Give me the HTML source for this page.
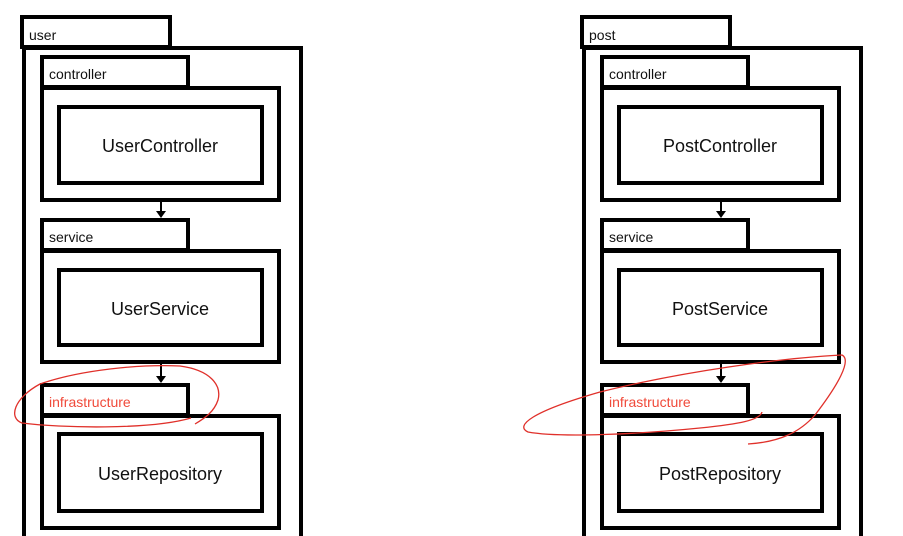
<!DOCTYPE html>
<html><head><meta charset="utf-8"><style>
html,body{margin:0;padding:0;background:#fff;width:903px;height:536px;overflow:hidden}
svg text{font-family:"Liberation Sans",sans-serif}
</style></head><body>
<svg width="903" height="536" viewBox="0 0 903 536" xmlns="http://www.w3.org/2000/svg">
<defs>
<g id="col" fill="#fff" stroke="#000" stroke-width="4">
<rect x="24" y="48" width="277" height="500"/>
<rect x="22" y="17" width="148" height="30"/>
<rect x="42" y="88" width="237" height="112"/>
<rect x="42" y="57" width="146" height="30"/>
<rect x="59" y="107" width="203" height="76"/>
<rect x="42" y="251" width="237" height="111"/>
<rect x="42" y="220" width="146" height="30"/>
<rect x="59" y="270" width="203" height="75"/>
<rect x="42" y="416" width="237" height="112"/>
<rect x="42" y="385" width="146" height="30"/>
<rect x="59" y="434" width="203" height="77"/>
<line x1="161" y1="202" x2="161" y2="212" stroke-width="2"/>
<line x1="161" y1="364" x2="161" y2="377" stroke-width="2"/>
<path d="M156,211 L166,211 L161,218 Z" fill="#000" stroke="none"/>
<path d="M156,376 L166,376 L161,383 Z" fill="#000" stroke="none"/>
</g>
</defs>
<use href="#col"/>
<use href="#col" x="560"/>
<g font-size="14" fill="#111">
<text x="29" y="40">user</text>
<text x="49" y="79">controller</text>
<text x="49" y="242">service</text>
<text x="589" y="40">post</text>
<text x="609" y="79">controller</text>
<text x="609" y="242">service</text>
</g>
<g font-size="14" fill="#f04a3a">
<text x="49" y="407">infrastructure</text>
<text x="609" y="407">infrastructure</text>
</g>
<g font-size="18" fill="#111" text-anchor="middle">
<text x="160" y="152">UserController</text>
<text x="160" y="315">UserService</text>
<text x="160" y="480">UserRepository</text>
<text x="720" y="152">PostController</text>
<text x="720" y="315">PostService</text>
<text x="720" y="480">PostRepository</text>
</g>
<g fill="none" stroke="#e0302a" stroke-width="1.3">
<path d="M191,418 C150,430 60,428 22,423 C8,418 14,398 40,384 C80,370 140,364 180,366 C210,370 222,385 218,400 C214,412 205,418 195,424"/>
<path d="M762,412 C760,420 740,424 700,428 C640,434 560,438 528,432 C515,426 530,412 600,392 C680,372 780,358 842,355 C852,360 838,385 815,415 C800,432 780,442 748,444"/>
</g>
</svg>
</body></html>
